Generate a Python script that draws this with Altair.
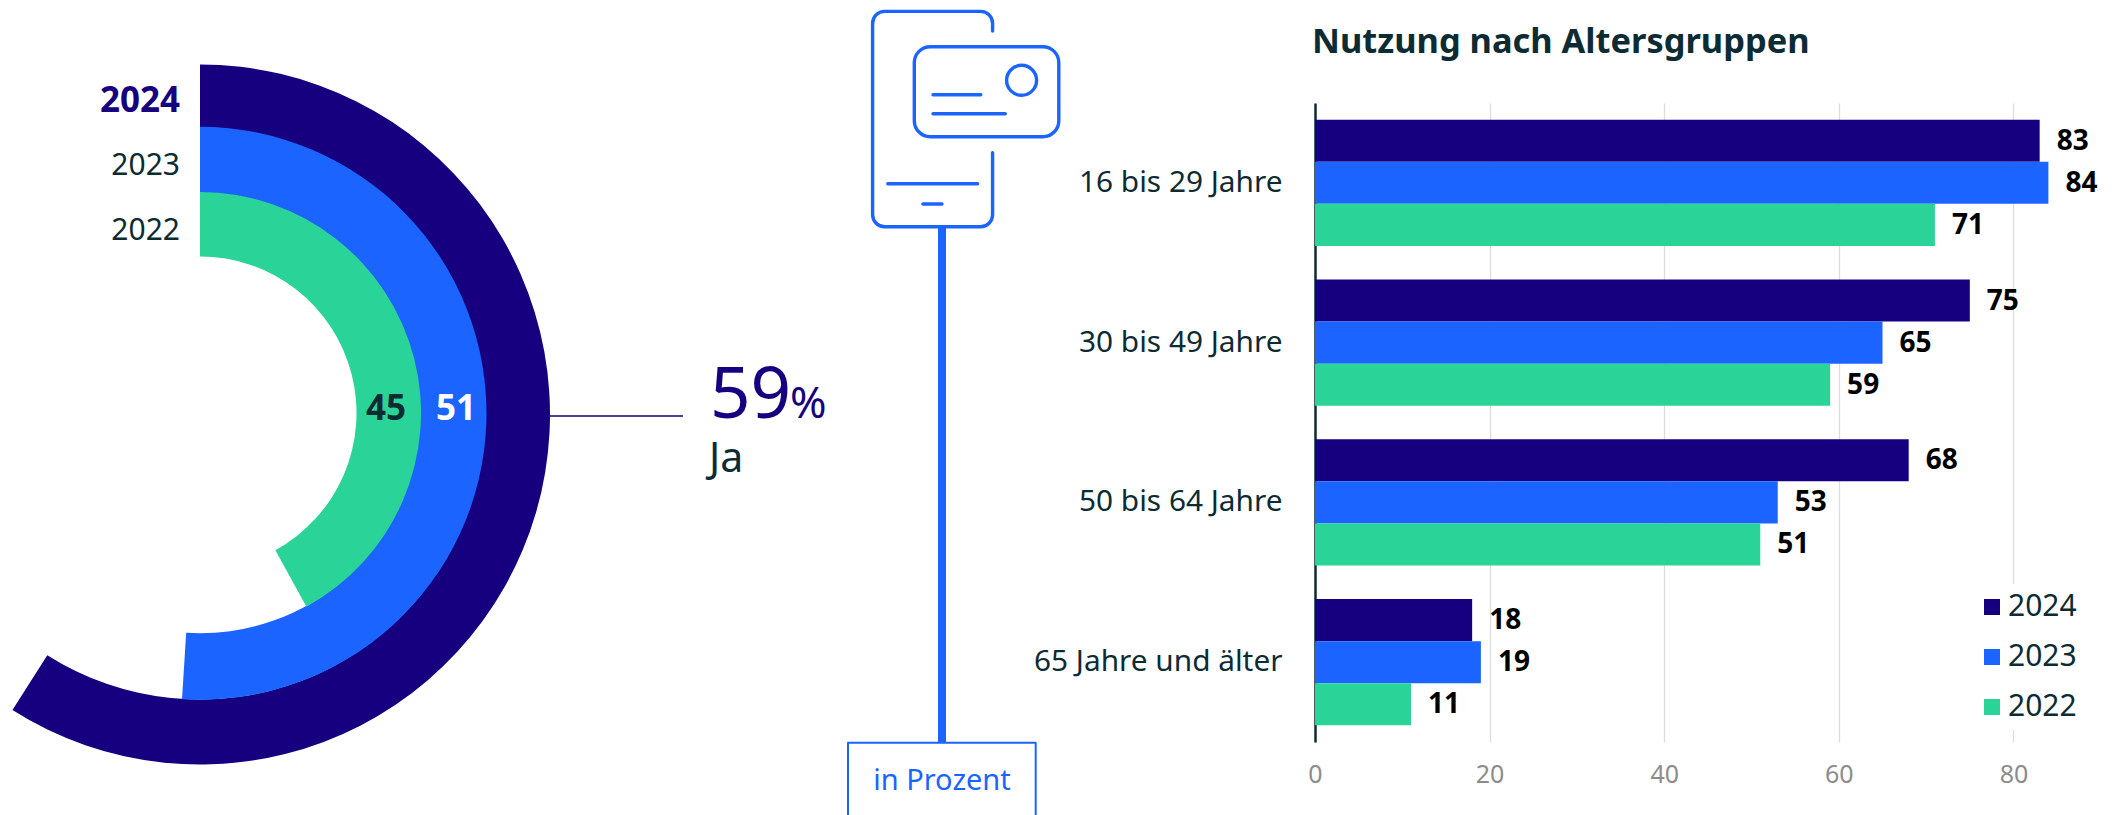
import altair as alt
import pandas as pd

FONT = "Noto Sans"
NAVY, BLUE, GREEN = "#160080", "#1c64ff", "#2ad498"
INK = "#0d2b33"

years = ["2024", "2023", "2022"]
year_colors = [NAVY, BLUE, GREEN]
arc_drawn = [59, 51, 42]          # sweep as drawn in the ring
arc_labels = ["59", "51", "45"]   # number printed on the ring
groups = ["16 bis 29 Jahre", "30 bis 49 Jahre", "50 bis 64 Jahre", "65 Jahre und älter"]
v2024 = [83, 75, 68, 18]
v2023 = [84, 65, 53, 19]
v2022 = [71, 59, 51, 11]
x_ticks = [0, 20, 40, 60, 80]

arc_df = pd.DataFrame({"year": years, "share": arc_drawn, "start": [0, 0, 0]})
bar_df = pd.DataFrame({
    "group": groups * 3,
    "year": sum([[y] * 4 for y in years], []),
    "value": v2024 + v2023 + v2022,
})

o = 8      # horizontal page margin
p = 8      # vertical page margin
one = pd.DataFrame({"a": [1]})


def txt(text, x, y, size, color=INK, weight="normal", align="left", baseline="middle", font=FONT):
    return alt.Chart(one).mark_text(
        text=text, font=font, fontSize=size, color=color, fontWeight=weight,
        align=align, baseline=baseline,
    ).encode(x=alt.value(x), y=alt.value(y))


rings = []
for yr, col, r_out, r_in, cy in zip(years, year_colors, [350, 286.5, 221], [285, 220, 156.5], [414.5, 413.3, 413]):
    rings.append(
        alt.Chart(arc_df).transform_filter(alt.datum.year == yr)
        .mark_arc(radius=r_out, radius2=r_in, fill=col, stroke=None)
        .encode(
            theta=alt.Theta("start:Q", scale=alt.Scale(domain=[0, 100], range=[0, 6.283185], nice=False, zero=True)),
            theta2=alt.Theta2("share:Q"),
            x=alt.value(200 - o), y=alt.value(cy - p),
        )
    )


def rrect(x0, y0, x1, y1, r):
    return (f"M{x0 + r},{y0} L{x1 - r},{y0} A{r},{r} 0 0 1 {x1},{y0 + r} L{x1},{y1 - r} "
            f"A{r},{r} 0 0 1 {x1 - r},{y1} L{x0 + r},{y1} A{r},{r} 0 0 1 {x0},{y1 - r} "
            f"L{x0},{y0 + r} A{r},{r} 0 0 1 {x0 + r},{y0} Z ")


icon_top = 11.4
icon_path = (
    # phone, open on the right side where the card sits
    f"M{992.6 - o},{31 - p} L{992.6 - o},{23.4 - p} A12,12 0 0 0 {980.6 - o},{icon_top - p} L{884.6 - o},{icon_top - p} "
    f"A12,12 0 0 0 {872.6 - o},{23.4 - p} L{872.6 - o},{214.7 - p} A12,12 0 0 0 {884.6 - o},{226.7 - p} "
    f"L{980.6 - o},{226.7 - p} A12,12 0 0 0 {992.6 - o},{214.7 - p} L{992.6 - o},{152.7 - p} "
    + rrect(914.3 - o, 46.7 - p, 1058.8 - o, 136.7 - p, 16)
    + f"M{1006.6 - o},{80.3 - p} a15,15 0 1 0 30,0 a15,15 0 1 0 -30,0 Z "
    + f"M{933 - o},{94.7 - p} L{980.8 - o},{94.7 - p} M{933 - o},{113.7 - p} L{1005.3 - o},{113.7 - p} "
    + f"M{887.8 - o},{183.7 - p} L{977.6 - o},{183.7 - p} M{922.9 - o},{204 - p} L{942 - o},{204 - p}"
)
box_path = f"M{848 - o},{830 - p} L{848 - o},{742.7 - p} L{1035.7 - o},{742.7 - p} L{1035.7 - o},{830 - p}"

icon = alt.Chart(one).mark_point(
    shape=icon_path, size=4, filled=False, stroke=BLUE, strokeWidth=3.4, opacity=1,
    strokeCap="round", strokeJoin="round",
).encode(x=alt.value(0), y=alt.value(0))
box = alt.Chart(one).mark_point(
    shape=box_path, size=4, filled=False, stroke=BLUE, strokeWidth=2, opacity=1, strokeJoin="round",
).encode(x=alt.value(0), y=alt.value(0))
pole = alt.Chart(one).mark_rule(color=BLUE, strokeWidth=8).encode(
    x=alt.value(942 - o), y=alt.value(227 - p), y2=alt.value(742.7 - p))
leader = alt.Chart(one).mark_rule(color=NAVY, strokeWidth=1.5).encode(
    x=alt.value(550 - o), x2=alt.value(683 - o), y=alt.value(416 - p))

left = alt.layer(
    *rings,
    txt(years[0], 180 - o, 100.5 - p, 35, NAVY, "bold", "right"),
    txt(years[1], 180 - o, 166.3 - p, 30, INK, "normal", "right"),
    txt(years[2], 180 - o, 230.5 - p, 30, INK, "normal", "right"),
    txt(arc_labels[2], 386 - o, 409 - p, 35, INK, "bold", "center"),
    txt(arc_labels[1], 456 - o, 409 - p, 35, "#ffffff", "bold", "center"),
    leader,
    txt(arc_labels[0], 710 - o, 418 - p, 71, NAVY, "normal", "left", "alphabetic"),
    txt("%", 790 - o, 418 - p, 44, NAVY, "normal", "left", "alphabetic"),
    txt("Ja", 709 - o, 472 - p, 41, INK, "normal", "left", "alphabetic"),
    pole, icon, box,
    txt("in Prozent", 942 - o, 781 - p, 29, BLUE, "normal", "center"),
).properties(width=1306.5, height=807)

head = txt("Nutzung nach Altersgruppen", -3, 52.7 - p, 34.4, INK, "bold", "left", "alphabetic").properties(width=798, height=102.3 - p)

y_enc = alt.Y("group:N", sort=groups, title=None,
              scale=alt.Scale(paddingInner=0.2105, paddingOuter=0.105),
              axis=alt.Axis(labelFont=FONT, labelFontSize=29.8, labelColor=INK, labelPadding=33,
                            ticks=False, domainColor=INK, domainWidth=2.5, grid=False,
                            labelLimit=400))
x_enc = alt.X("value:Q", title=None,
              scale=alt.Scale(domain=[0, 91.4], nice=False),
              axis=alt.Axis(values=x_ticks, labelFont=FONT, labelFontSize=25, labelColor="#8c8c8c",
                            labelPadding=20, ticks=False, domain=False, grid=True, labelFlush=False,
                            gridColor="#dddddd", gridWidth=1.3))
y_off = alt.YOffset("year:N", sort=years, scale=alt.Scale(domain=years))

bars = alt.Chart(bar_df).mark_bar(stroke=None).encode(
    y=y_enc, x=x_enc, yOffset=y_off,
    color=alt.Color("year:N", scale=alt.Scale(domain=years, range=year_colors),
                    legend=alt.Legend(orient="none", legendX=1961, legendY=576, title=None,
                                      symbolType="square", symbolSize=256, symbolStrokeWidth=0,
                                      labelFont=FONT, labelFontSize=30, labelColor=INK,
                                      rowPadding=20, labelOffset=1, fillColor="white", padding=8)),
)
labels = alt.Chart(bar_df).mark_text(
    align="left", baseline="middle", dx=17, dy=1, font=FONT, fontSize=28, fontWeight="bold", color="#000000",
).encode(y=y_enc, x=x_enc, yOffset=y_off, text="value:Q")
panel = alt.layer(bars, labels).properties(width=798, height=639)

right = alt.vconcat(head, panel, spacing=0, bounds="flush")

chart = alt.hconcat(left, right, spacing=0, bounds="flush").properties(padding=0).configure_view(stroke=None)
chart.save("out.html", embed_options={"renderer": "svg", "actions": False})
